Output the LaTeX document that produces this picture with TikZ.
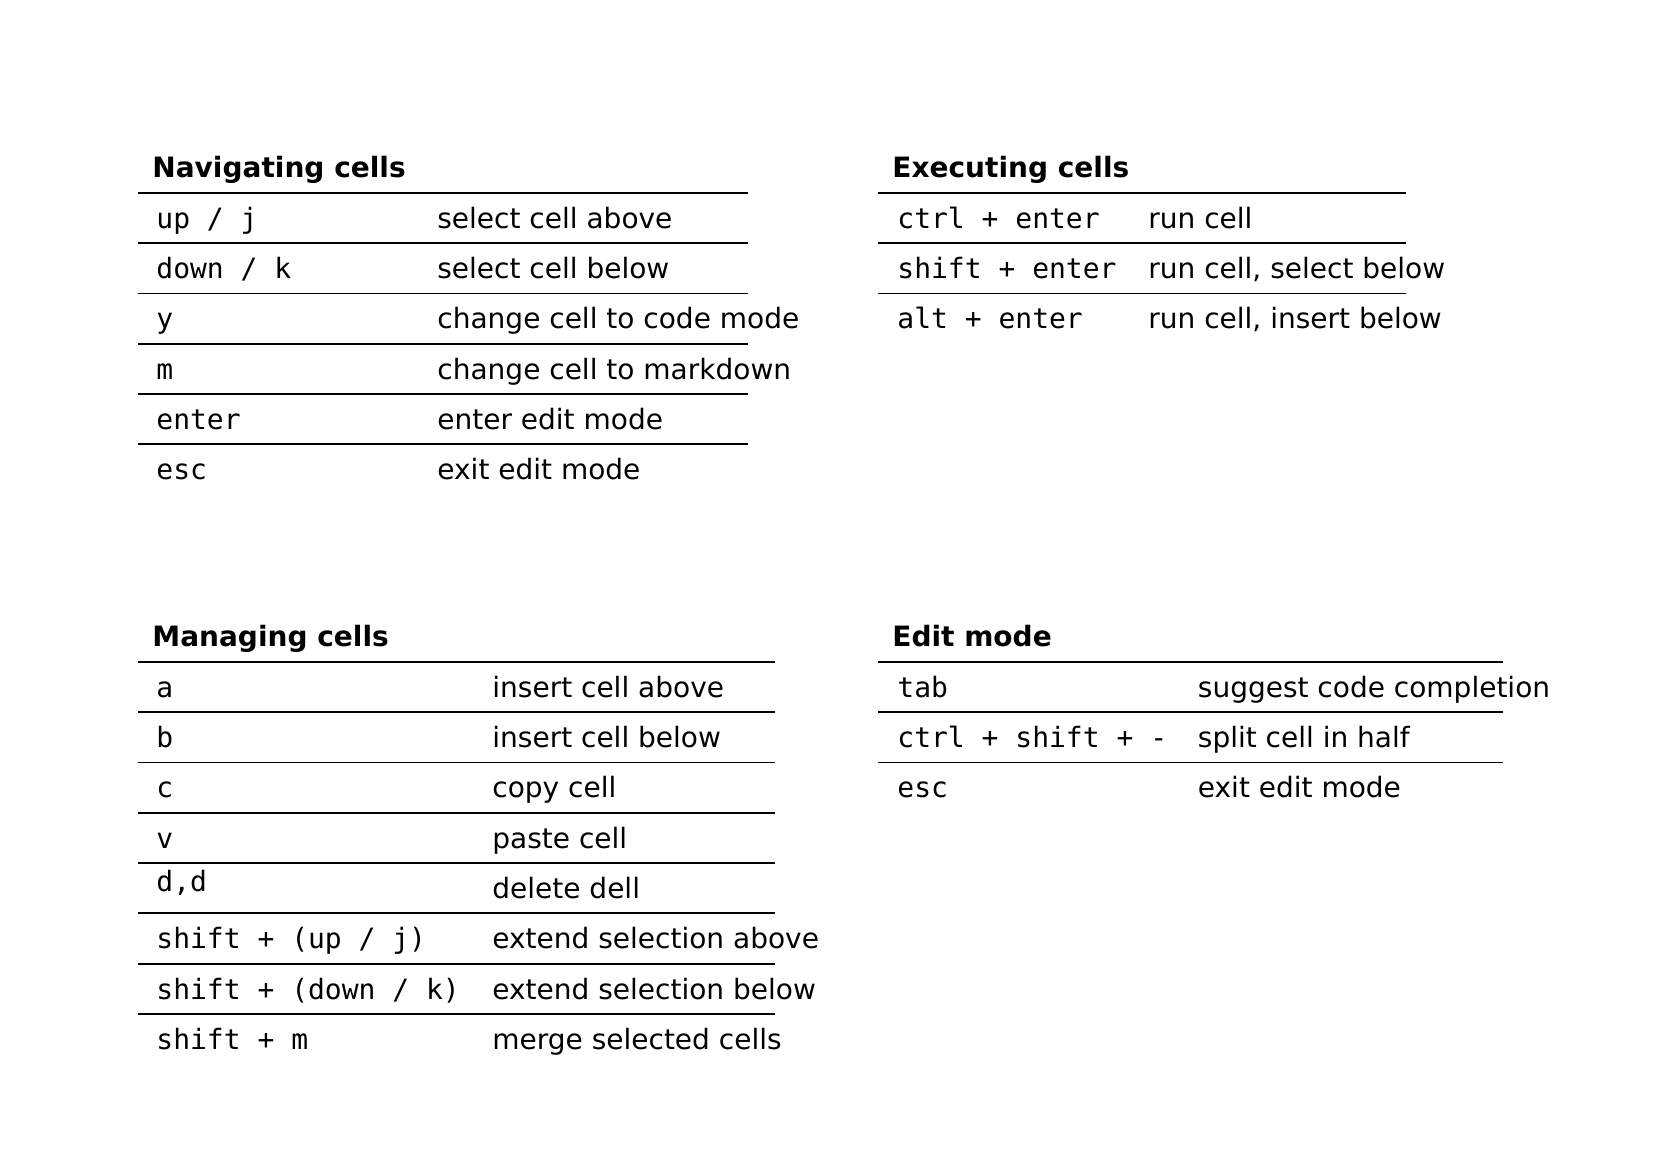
\documentclass[tikz,border=0pt]{standalone}
\usepackage{fontspec}
\setmainfont{DejaVu Sans}
\setmonofont{DejaVu Sans Mono}
\tikzset{
  ttl/.style={anchor=base west, inner sep=0pt, font=\fontsize{14}{17}\selectfont\bfseries},
  keyt/.style={anchor=base west, inner sep=0pt, font=\fontsize{14}{17}\selectfont\ttfamily},
  desc/.style={anchor=base west, inner sep=0pt, font=\fontsize{14}{17}\selectfont},
  tabrule/.style={line width=0.9pt, black}
}
\begin{document}
\begin{tikzpicture}[x=0.5pt,y=-0.5pt]
\useasboundingbox (0,0) rectangle (1653,1169);
% ---------------- Navigating cells ----------------
\node[ttl] (navT) at (152,177.0) {Navigating cells};
\foreach \yy in {192.8,243.1,293.4,343.7,394.0,444.3}
  \draw[tabrule] (138,\yy) -- (748,\yy);
\node[keyt] (navk1) at (156,228.3) {up / j};
\node[desc] (navd1) at (437,228.3) {select cell above};
\node[keyt] (navk2) at (156,278.6) {down / k};
\node[desc] (navd2) at (437,278.6) {select cell below};
\node[keyt] (navk3) at (156,328.9) {y};
\node[desc] (navd3) at (437,328.9) {change cell to code mode};
\node[keyt] (navk4) at (156,379.2) {m};
\node[desc] (navd4) at (437,379.2) {change cell to markdown};
\node[keyt] (navk5) at (156,429.5) {enter};
\node[desc] (navd5) at (437,429.5) {enter edit mode};
\node[keyt] (navk6) at (156,479.8) {esc};
\node[desc] (navd6) at (437,479.8) {exit edit mode};
% ---------------- Executing cells ----------------
\node[ttl] (exeT) at (892,177.0) {Executing cells};
\foreach \yy in {192.8,243.1,293.4}
  \draw[tabrule] (878,\yy) -- (1406,\yy);
\node[keyt] (exek1) at (897,228.3) {ctrl + enter};
\node[desc] (exed1) at (1148,228.3) {run cell};
\node[keyt] (exek2) at (897,278.6) {shift + enter};
\node[desc] (exed2) at (1148,278.6) {run cell, select below};
\node[keyt] (exek3) at (897,328.9) {alt + enter};
\node[desc] (exed3) at (1148,328.9) {run cell, insert below};
% ---------------- Managing cells ----------------
\node[ttl] (manT) at (152,646.0) {Managing cells};
\foreach \yy in {661.8,712.1,762.4,812.7,863.0,913.3,963.6,1013.9}
  \draw[tabrule] (138,\yy) -- (775,\yy);
\node[keyt] (mank1) at (156,697.3) {a};
\node[desc] (mand1) at (492,697.3) {insert cell above};
\node[keyt] (mank2) at (156,747.6) {b};
\node[desc] (mand2) at (492,747.6) {insert cell below};
\node[keyt] (mank3) at (156,797.9) {c};
\node[desc] (mand3) at (492,797.9) {copy cell};
\node[keyt] (mank4) at (156,848.2) {v};
\node[desc] (mand4) at (492,848.2) {paste cell};
\node[keyt] (mank5) at (156,891.0) {d,d};
\node[desc] (mand5) at (492,898.5) {delete dell};
\node[keyt] (mank6) at (156,948.8) {shift + (up / j)};
\node[desc] (mand6) at (492,948.8) {extend selection above};
\node[keyt] (mank7) at (156,999.1) {shift + (down / k)};
\node[desc] (mand7) at (492,999.1) {extend selection below};
\node[keyt] (mank8) at (156,1049.4) {shift + m};
\node[desc] (mand8) at (492,1049.4) {merge selected cells};
% ---------------- Edit mode ----------------
\node[ttl] (ediT) at (892,646.0) {Edit mode};
\foreach \yy in {661.8,712.1,762.4}
  \draw[tabrule] (878,\yy) -- (1503,\yy);
\node[keyt] (edik1) at (897,697.3) {tab};
\node[desc] (edid1) at (1197.5,697.3) {suggest code completion};
\node[keyt] (edik2) at (897,747.6) {ctrl + shift + -};
\node[desc] (edid2) at (1197.5,747.6) {split cell in half};
\node[keyt] (edik3) at (897,797.9) {esc};
\node[desc] (edid3) at (1197.5,797.9) {exit edit mode};
\end{tikzpicture}
\end{document}
